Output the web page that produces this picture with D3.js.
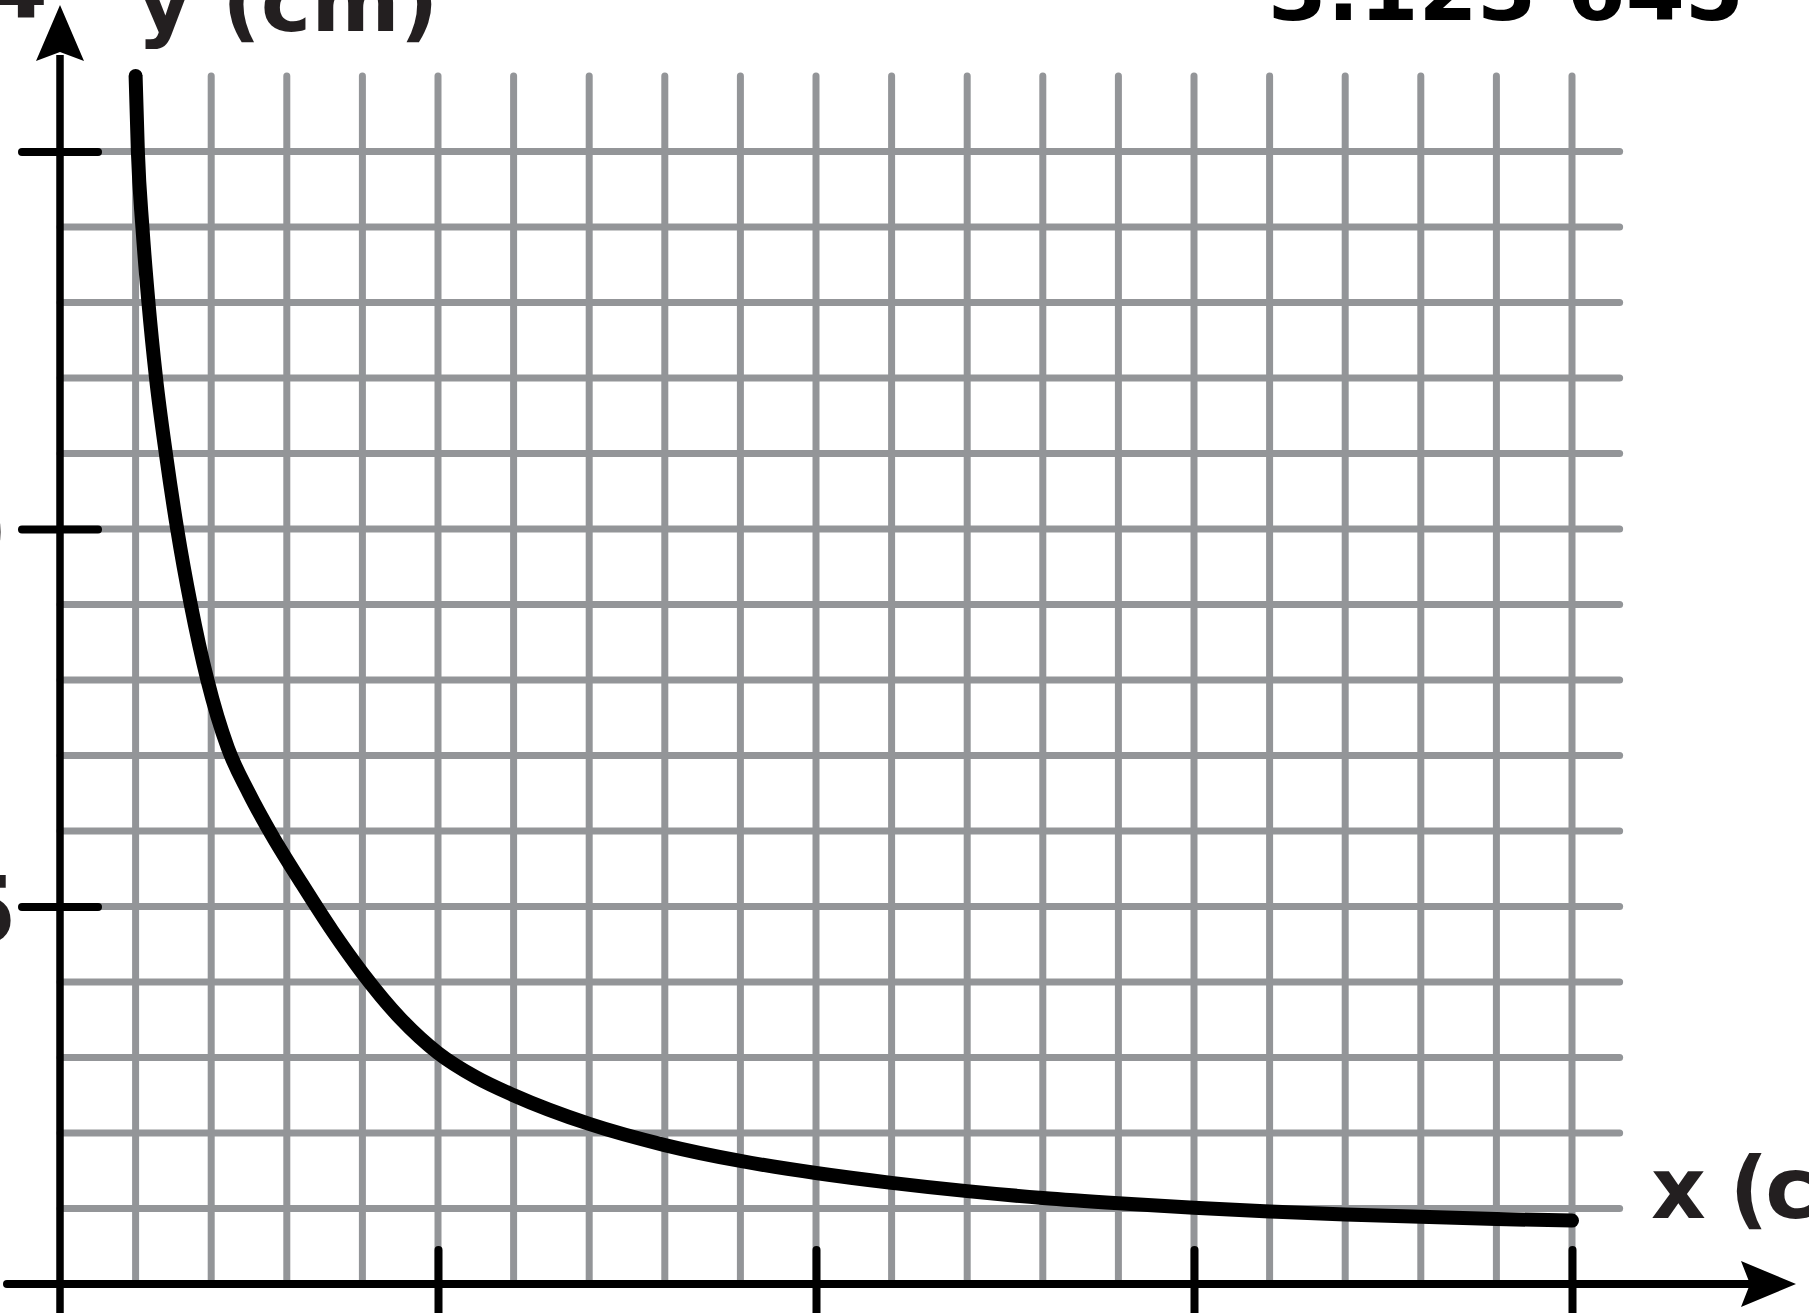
<!DOCTYPE html>
<html><head><meta charset="utf-8">
<script src="https://cdn.jsdelivr.net/npm/d3@7"></script>
<style>body{margin:0;background:#fff;overflow:hidden}svg{display:block}</style>
</head><body>
<svg id="c" width="1809" height="1313"></svg>
<script>
// ---- data ----
const curveX = [1.00, 1.03, 1.09, 1.17, 1.27, 1.40, 1.55, 1.73, 1.95, 2.22, 2.5, 2.8, 3.2, 3.6, 4.0, 4.5, 5.0, 5.5, 6.0, 7.0, 8.0, 9.0, 10, 11, 12, 13, 14, 15, 16, 17, 18, 19, 20];
const curveY = [16, 15, 14, 13, 12, 11, 10, 9, 8, 7.1, 6.5, 5.95, 5.3, 4.68, 4.12, 3.52, 3.06, 2.74, 2.5, 2.12, 1.84, 1.63, 1.47, 1.34, 1.23, 1.14, 1.07, 1.01, 0.96, 0.92, 0.89, 0.86, 0.84];
const gridXValues = [1,2,3,4,5,6,7,8,9,10,11,12,13,14,15,16,17,18,19,20];
const gridYValues = [1,2,3,4,5,6,7,8,9,10,11,12,13,14,15];
const xTickValues = [5, 10, 15, 20];
const yTickValues = [5, 10, 15];
const yTickLabels = ["5", "10", "15"];
const xTitle = "x (cm)";
const yTitle = "y (cm)";
const cornerLabel = "4";
const topRightLabel = "3.123 645";

// ---- layout ----
const svg = d3.select("#c");
const x = d3.scaleLinear().domain([0, 20]).range([60, 1572]);
const y = d3.scaleLinear().domain([0, 16]).range([1284, 76]);
const gridColor = "#939598";
const inkColor = "#231f20";
const fontFam = "'DejaVu Sans', sans-serif";
const hGridEnd = 20.63;
const yLabelEnds = [-43, -55, -75];

// grid
const grid = svg.append("g").attr("stroke", gridColor).attr("stroke-width", 7).attr("stroke-linecap", "round");
grid.selectAll("line.v").data(gridXValues).join("line").attr("class", "v")
  .attr("x1", d => x(d)).attr("x2", d => x(d)).attr("y1", y(16)).attr("y2", y(0));
grid.selectAll("line.h").data(gridYValues).join("line").attr("class", "h")
  .attr("x1", x(0)).attr("x2", x(hGridEnd)).attr("y1", d => y(d)).attr("y2", d => y(d));

// axis lines
svg.append("line").attr("x1", x(0)).attr("x2", x(0)).attr("y1", 55).attr("y2", 1330)
  .attr("stroke", "#000").attr("stroke-width", 7.5);
svg.append("line").attr("x1", 7).attr("x2", 1752).attr("y1", y(0)).attr("y2", y(0))
  .attr("stroke", "#000").attr("stroke-width", 8).attr("stroke-linecap", "round");
// arrows
svg.append("path").attr("d", `M${x(0)},5 L${x(0)+24},61 L${x(0)},52 L${x(0)-24},61 Z`).attr("fill", "#000");
svg.append("path").attr("d", `M1796,${y(0)} L1741,${y(0)-23} L1750,${y(0)} L1741,${y(0)+23} Z`).attr("fill", "#000");

// x axis ticks (labels lie below the visible area in the reference)
const gx = svg.append("g").attr("transform", `translate(0,${y(0)})`)
  .call(d3.axisBottom(x).tickValues(xTickValues).tickSize(0).tickFormat(""));
gx.select(".domain").remove();
gx.selectAll(".tick text").remove();
gx.selectAll(".tick line").attr("y1", -34).attr("y2", 40).attr("stroke", "#000").attr("stroke-width", 8).attr("stroke-linecap", "round");

// y axis ticks
const gy = svg.append("g").attr("transform", `translate(${x(0)},0)`)
  .call(d3.axisLeft(y).tickValues(yTickValues).tickSize(0).tickFormat((d, i) => yTickLabels[i]));
gy.select(".domain").remove();
gy.selectAll(".tick line").attr("x1", -38).attr("x2", 38).attr("stroke", "#000").attr("stroke-width", 8).attr("stroke-linecap", "round");
gy.selectAll(".tick text").attr("x", (d, i) => yLabelEnds[i]).attr("dy", 36).attr("text-anchor", "end")
  .attr("font-family", fontFam).attr("font-weight", "bold").attr("font-size", 92).attr("fill", inkColor);

// curve
const line = d3.line().x((d, i) => x(curveX[i])).y(d => y(d)).curve(d3.curveMonotoneX);
svg.append("path").attr("d", line(curveY)).attr("fill", "none").attr("stroke", "#000")
  .attr("stroke-width", 14).attr("stroke-linecap", "round").attr("stroke-linejoin", "round");

// titles
svg.append("text").attr("x", 137).attr("y", 31).text(yTitle)
  .attr("font-family", fontFam).attr("font-weight", "bold").attr("font-size", 85).attr("fill", inkColor);
svg.append("text").attr("x", 1651).attr("y", 1218).attr("letter-spacing", -3).text(xTitle)
  .attr("font-family", fontFam).attr("font-weight", "bold").attr("font-size", 85).attr("fill", inkColor);
svg.append("text").attr("x", 48).attr("y", 17).attr("text-anchor", "end").text(cornerLabel)
  .attr("font-family", fontFam).attr("font-weight", "bold").attr("font-size", 92).attr("fill", inkColor);
svg.append("text").attr("x", 1268).attr("y", 20).text(topRightLabel)
  .attr("textLength", 476).attr("lengthAdjust", "spacingAndGlyphs")
  .attr("font-family", fontFam).attr("font-weight", "bold").attr("font-size", 88).attr("fill", "#000");
</script>
</body></html>
